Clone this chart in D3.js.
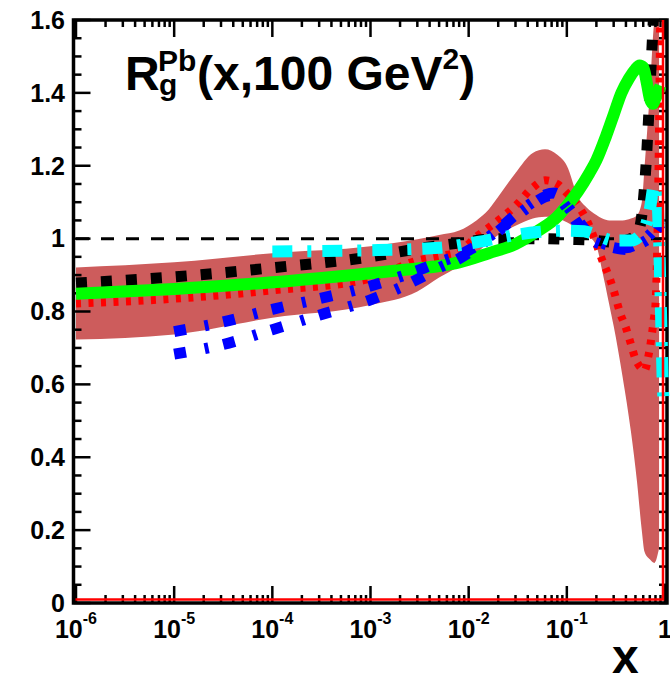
<!DOCTYPE html>
<html>
<head>
<meta charset="utf-8">
<script src="https://d3js.org/d3.v7.min.js"></script>
<style>
body { margin: 0; background: #fff; }
text { font-family: "Liberation Sans", Arial, Helvetica, sans-serif; font-weight: bold; fill: #000; }
</style>
</head>
<body>
<div id="chart"></div>
<script>
// ---- data ----
var bandX  = [1e-6, 1e-5, 1e-4, 1e-3, 3e-3, 5e-3, 8e-3, 0.012, 0.016, 0.02, 0.03, 0.045, 0.06, 0.08, 0.1, 0.13, 0.16, 0.2, 0.23, 0.27, 0.3, 0.37, 0.45, 0.52, 0.58, 0.62, 0.7, 0.78, 0.87];
var bandLo = [0.723, 0.737, 0.783, 0.818, 0.855, 0.893, 0.925, 0.96, 0.99, 1.01, 1.035, 1.055, 1.06, 1.055, 1.045, 1.025, 1.01, 0.98, 0.91, 0.82, 0.76, 0.62, 0.47, 0.33, 0.2, 0.14, 0.12, 0.11, 0.15];
var bandHi = [0.921, 0.935, 0.96, 0.979, 0.998, 1.01, 1.022, 1.05, 1.08, 1.115, 1.18, 1.235, 1.245, 1.23, 1.2, 1.115, 1.085, 1.065, 1.055, 1.05, 1.05, 1.05, 1.055, 1.065, 1.1, 1.2, 1.4, 1.6, 1.65];

var redX = [1e-6, 1e-5, 1e-4, 1e-3, 3e-3, 5e-3, 8e-3, 0.012, 0.02, 0.03, 0.045, 0.06, 0.08, 0.1, 0.13, 0.16, 0.2, 0.23, 0.27, 0.3, 0.35, 0.4, 0.45, 0.5, 0.57, 0.62, 0.68, 0.72, 0.77, 0.8, 0.86, 0.9];
var redY = [0.822, 0.835, 0.858, 0.89, 0.94, 0.952, 0.965, 1.005, 1.05, 1.09, 1.14, 1.16, 1.15, 1.125, 1.09, 1.05, 0.985, 0.94, 0.895, 0.858, 0.795, 0.755, 0.71, 0.67, 0.645, 0.638, 0.68, 0.72, 0.78, 0.82, 1.2, 1.7];

var blackX = [1e-6, 1e-5, 1e-4, 1e-3, 3e-3, 8e-3, 0.02, 0.05, 0.1, 0.2, 0.3, 0.45, 0.55, 0.6, 0.64, 0.68, 0.72, 0.76, 0.8];
var blackY = [0.878, 0.895, 0.92, 0.95, 0.972, 0.988, 1.0, 1.0, 0.998, 0.995, 0.99, 1.0, 1.03, 1.1, 1.2, 1.33, 1.47, 1.6, 1.75];

var greenX = [1e-6, 1e-5, 1e-4, 1e-3, 3e-3, 5e-3, 8e-3, 0.016, 0.03, 0.05, 0.08, 0.1, 0.13, 0.17, 0.2, 0.25, 0.3, 0.36, 0.43, 0.5, 0.55, 0.6, 0.65, 0.7, 0.75, 0.8, 0.9];
var greenY = [0.849, 0.862, 0.88, 0.905, 0.918, 0.925, 0.935, 0.96, 0.985, 1.02, 1.06, 1.09, 1.13, 1.18, 1.215, 1.28, 1.34, 1.4, 1.44, 1.465, 1.475, 1.47, 1.43, 1.385, 1.37, 1.385, 1.42];

var blueX  = [1e-5, 3e-5, 1e-4, 3e-4, 1e-3, 3e-3, 5e-3, 8e-3, 0.012, 0.02, 0.03, 0.045, 0.06, 0.075, 0.1, 0.13, 0.17, 0.22, 0.3, 0.4, 0.55, 0.75, 0.9];
var blue1Y = [0.745, 0.77, 0.806, 0.835, 0.87, 0.912, 0.935, 0.955, 0.98, 1.025, 1.065, 1.1, 1.12, 1.125, 1.09, 1.05, 1.01, 0.99, 0.978, 0.975, 0.99, 1.02, 1.05];
var blue2Y = [0.683, 0.708, 0.75, 0.79, 0.832, 0.888, 0.92, 0.945, 0.975, 1.02, 1.06, 1.095, 1.115, 1.12, 1.085, 1.04, 1.0, 0.985, 0.975, 0.97, 0.985, 1.01, 1.04];

var cyanX = [1e-4, 1e-3, 5e-3, 0.012, 0.03, 0.05, 0.1, 0.15, 0.2, 0.3, 0.45, 0.6, 0.7, 0.78, 0.84, 0.88, 0.92, 0.95, 0.97];
var cyanY = [0.965, 0.968, 0.975, 0.99, 1.01, 1.018, 1.022, 1.02, 1.01, 0.995, 0.995, 1.02, 1.08, 1.15, 1.1, 0.95, 0.75, 0.6, 0.55];

var yTicksMajor = [0, 0.2, 0.4, 0.6, 0.8, 1, 1.2, 1.4, 1.6];
var yTickLabels = ["0", "0.2", "0.4", "0.6", "0.8", "1", "1.2", "1.4", "1.6"];
var xTicksMajor = [1e-6, 1e-5, 1e-4, 1e-3, 1e-2, 1e-1, 1];
var xTickExps = ["-6", "-5", "-4", "-3", "-2", "-1", ""];

// ---- layout ----
var width = 670, height = 676;
var pLeft = 73.5, pRight = 667, pTop = 20, pBottom = 603;

var x = d3.scaleLog().domain([1e-6, 1]).range([76, 665]);
var y = d3.scaleLinear().domain([0, 1.6]).range([pBottom, pTop]);

var svg = d3.select("#chart").append("svg")
    .attr("width", width)
    .attr("height", height);

svg.append("clipPath").attr("id", "plotclip")
    .append("rect")
    .attr("x", pLeft).attr("y", pTop)
    .attr("width", width - pLeft).attr("height", pBottom - pTop);

function pts(xs, ys) {
    return xs.map(function (d, i) { return [d, ys[i]]; });
}

// band
var area = d3.area()
    .x(function (d) { return x(d[0]); })
    .y0(function (d) { return y(d[1]); })
    .y1(function (d) { return y(d[2]); })
    .curve(d3.curveMonotoneX);

svg.append("path")
    .datum(bandX.map(function (d, i) { return [d, bandLo[i], bandHi[i]]; }))
    .attr("clip-path", "url(#plotclip)")
    .attr("fill", "#cd5c5c")
    .attr("d", area);

// frame and ticks
var axes = svg.append("g")
    .attr("stroke", "#000")
    .attr("fill", "none");

axes.append("rect")
    .attr("x", pLeft).attr("y", pTop)
    .attr("width", pRight - pLeft).attr("height", pBottom - pTop)
    .attr("stroke-width", 3.5);

var yMinor = d3.range(0, 1.6001, 0.05);
yMinor.forEach(function (v) {
    var major = Math.abs(v * 5 - Math.round(v * 5)) < 1e-6;
    var len = major ? 17 : 8;
    axes.append("line").attr("x1", pLeft).attr("x2", pLeft + len)
        .attr("y1", y(v)).attr("y2", y(v)).attr("stroke-width", 2.5);
    axes.append("line").attr("x1", pRight).attr("x2", pRight - 8)
        .attr("y1", y(v)).attr("y2", y(v)).attr("stroke-width", 2.5);
});

var xMinor = [];
for (var e = -6; e < 0; e++) {
    for (var k = 2; k <= 9; k++) xMinor.push(k * Math.pow(10, e));
}
xMinor.forEach(function (v) {
    axes.append("line").attr("x1", x(v)).attr("x2", x(v))
        .attr("y1", pBottom).attr("y2", pBottom - 8).attr("stroke-width", 2.5);
    axes.append("line").attr("x1", x(v)).attr("x2", x(v))
        .attr("y1", pTop).attr("y2", pTop + 7).attr("stroke-width", 2.5);
});
xTicksMajor.forEach(function (v) {
    axes.append("line").attr("x1", x(v)).attr("x2", x(v))
        .attr("y1", pBottom).attr("y2", pBottom - 17).attr("stroke-width", 2.5);
    axes.append("line").attr("x1", x(v)).attr("x2", x(v))
        .attr("y1", pTop).attr("y2", pTop + 17).attr("stroke-width", 2.5);
});

// reference line at 1
svg.append("line")
    .attr("x1", x(1e-6)).attr("x2", x(1))
    .attr("y1", y(1)).attr("y2", y(1))
    .attr("stroke", "#000")
    .attr("stroke-width", 3)
    .attr("stroke-dasharray", "13,12");

// curves
var line = d3.line()
    .x(function (d) { return x(d[0]); })
    .y(function (d) { return y(d[1]); })
    .curve(d3.curveMonotoneX);

var curves = [
    { xs: redX, ys: redY, color: "#ff0000", w: 8, dash: "5,7.5" },
    { xs: blackX, ys: blackY, color: "#000000", w: 11, dash: "11,14" },
    { xs: greenX, ys: greenY, color: "#00ff00", w: 12, dash: null },
    { xs: blueX, ys: blue1Y, color: "#0000ff", w: 11, dash: "12,19,4,15" },
    { xs: blueX, ys: blue2Y, color: "#0000ff", w: 11, dash: "12,19,4,15" },
    { xs: cyanX, ys: cyanY, color: "#00ffff", w: 12, dash: "20,15,4,11" }
];

var cg = svg.append("g").attr("clip-path", "url(#plotclip)");
curves.forEach(function (c) {
    cg.append("path")
        .datum(pts(c.xs, c.ys))
        .attr("fill", "none")
        .attr("stroke", c.color)
        .attr("stroke-width", c.w)
        .attr("stroke-dasharray", c.dash)
        .attr("d", line);
});

// thin red frame inside the axes
svg.append("path")
    .attr("fill", "none")
    .attr("stroke", "#ff0000")
    .attr("stroke-width", 2.5)
    .attr("d", "M" + (pLeft + 2) + "," + (pBottom - 3.5) + "H" + (pRight - 4) + "V" + pTop);

// tick labels
svg.selectAll(".ylab")
    .data(yTicksMajor)
    .enter().append("text")
    .attr("class", "ylab")
    .attr("x", 65)
    .attr("y", function (d) { return y(d); })
    .attr("dy", "0.35em")
    .attr("text-anchor", "end")
    .attr("font-size", 25)
    .text(function (d, i) { return yTickLabels[i]; });

var xl = svg.selectAll(".xlab")
    .data(xTicksMajor)
    .enter().append("text")
    .attr("class", "xlab")
    .attr("x", function (d) { return x(d); })
    .attr("y", 638)
    .attr("text-anchor", "middle")
    .attr("font-size", 25);
xl.each(function (d, i) {
    var t = d3.select(this);
    if (xTickExps[i] === "") {
        t.append("tspan").text("1");
    } else {
        t.append("tspan").text("10");
        t.append("tspan").attr("font-size", 16).attr("dy", -14).text(xTickExps[i]);
    }
});

// axis title
svg.append("text")
    .attr("x", 612).attr("y", 673)
    .attr("font-size", 48)
    .text("x");

// plot title
var title = svg.append("text").attr("font-size", 48);
title.append("tspan").attr("x", 125).attr("y", 90).text("R");
title.append("tspan").attr("x", 159).attr("y", 95).attr("font-size", 30).text("g");
title.append("tspan").attr("x", 158).attr("y", 71).attr("font-size", 30).text("Pb");
title.append("tspan").attr("x", 197).attr("y", 90).text("(x,100 GeV");
title.append("tspan").attr("y", 69).attr("font-size", 30).text("2");
title.append("tspan").attr("y", 90).text(")");
</script>
</body>
</html>
